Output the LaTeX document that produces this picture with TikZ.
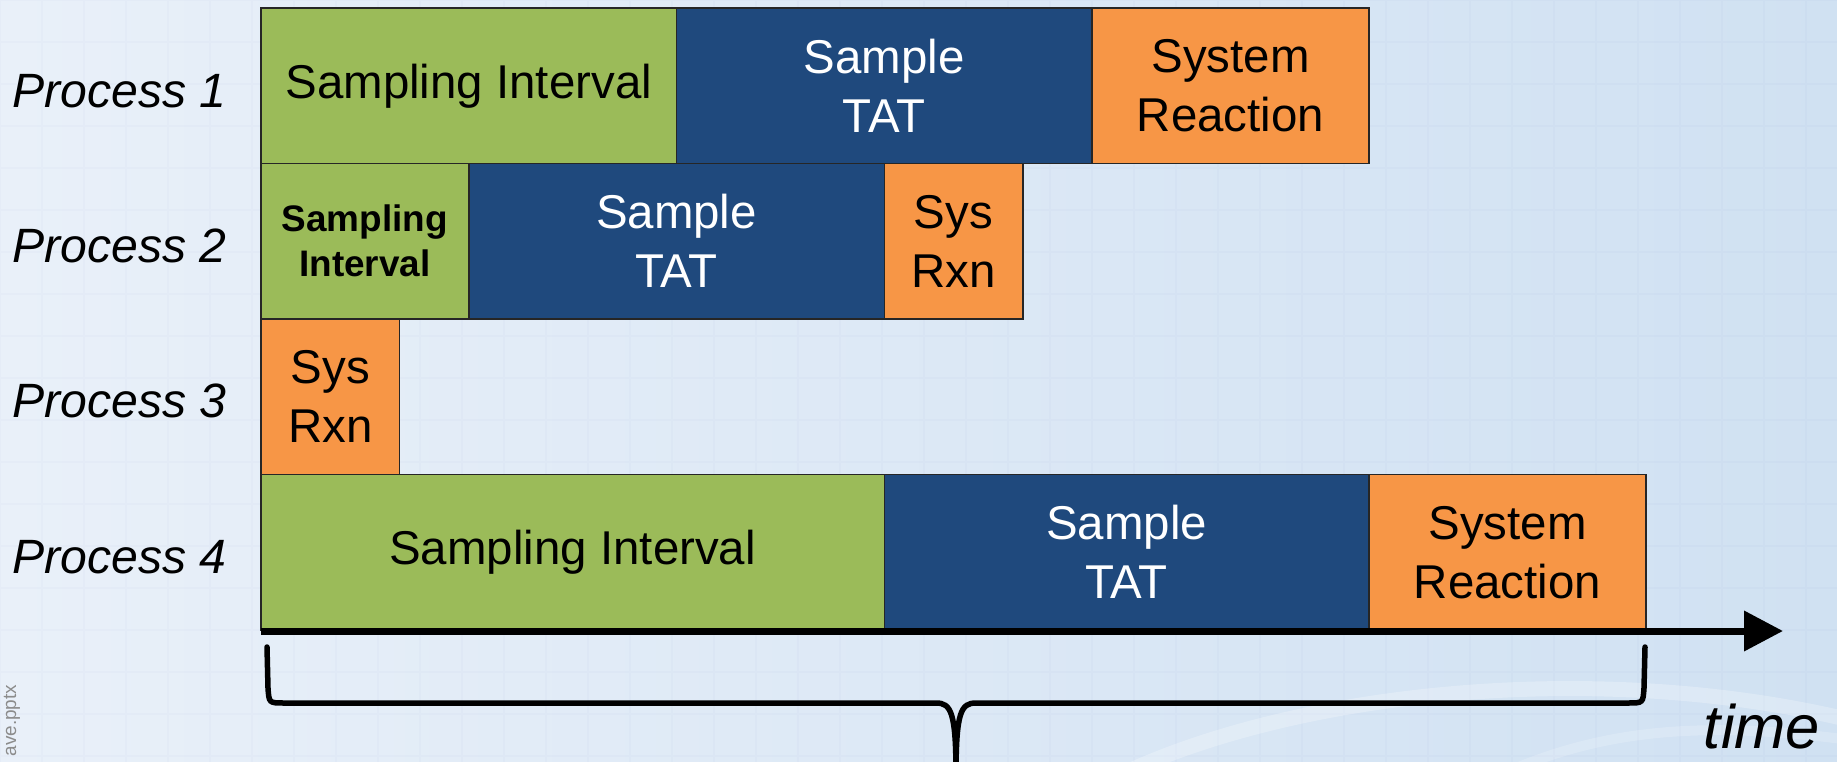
\documentclass[tikz,border=0pt]{standalone}
\usepackage{fontspec}
\setmainfont{Liberation Sans}
\usetikzlibrary{positioning,arrows.meta}
\definecolor{sigreen}{HTML}{9BBB59}
\definecolor{tatblue}{HTML}{1F497D}
\definecolor{rxnorange}{HTML}{F79646}
\definecolor{bgleft}{HTML}{E9F0F9}
\definecolor{bgright}{HTML}{D0E1F2}
\newcommand{\tu}{13.85mm}% one time unit
\tikzset{
  seg/.style={rectangle,draw=black!85,line width=.15mm,outer sep=0pt,inner sep=0pt,
    minimum height=15.55mm,align=center,font=\fontsize{13.5}{16.8}\selectfont},
  sgi/.style={seg,fill=sigreen},
  tat/.style={seg,fill=tatblue,text=white},
  rxn/.style={seg,fill=rxnorange},
  proc/.style={anchor=west,inner sep=0pt,font=\fontsize{13.7}{15}\selectfont\itshape}
}
\begin{document}
\begin{tikzpicture}[x=.1mm,y=-.1mm]
\useasboundingbox(0,0)rectangle(1837,762);
\clip(0,0)rectangle(1837,762);
%background
\shade[left color=bgleft,right color=bgright](0,0)rectangle(1837,762);
\draw[step=4.2mm,blue!40!gray,opacity=.025](0,0)grid(1837,762);
\draw[white,opacity=.25,line width=1.5mm](1120,775)..controls(1300,690)and(1600,660)..(1850,720);
\draw[white,opacity=.18,line width=1mm](1500,775)..controls(1600,730)and(1700,720)..(1850,740);
%process 1
\node[sgi,minimum width=3*\tu,anchor=north west](p1si)at(261,8){Sampling Interval};
\node[tat,minimum width=3*\tu,right=0pt of p1si](p1tat){Sample\\TAT};
\node[rxn,minimum width=2*\tu,right=0pt of p1tat](p1rxn){System\\Reaction};
%process 2
\node[sgi,minimum width=1.5*\tu,below=0pt of p1si.south west,anchor=north west,
  font=\fontsize{10.5}{12.8}\selectfont\bfseries](p2si){Sampling\\Interval};
\node[tat,minimum width=3*\tu,right=0pt of p2si](p2tat){Sample\\TAT};
\node[rxn,minimum width=1*\tu,right=0pt of p2tat](p2rxn){Sys\\Rxn};
%process 3
\node[rxn,minimum width=1*\tu,below=0pt of p2si.south west,anchor=north west](p3rxn){Sys\\Rxn};
%process 4
\node[sgi,minimum width=4.5*\tu,below=0pt of p3rxn.south west,anchor=north west](p4si){Sampling Interval};
\node[tat,minimum width=3.5*\tu,right=0pt of p4si](p4tat){Sample\\TAT};
\node[rxn,minimum width=2*\tu,right=0pt of p4tat](p4rxn){System\\Reaction};
%labels
\foreach \n/\y in {1/91,2/246,3/401,4/557}
  \node[proc](proc\n)at(12,\y){Process \n};
%time axis
\coordinate(t0)at(261,631);
\coordinate(t1)at(1783,631);
\draw[line width=.7mm,-{Triangle[length=3.9mm,width=3.9mm]}](t0)--(t1);
\node[font=\fontsize{17.5}{20}\selectfont\itshape,anchor=base,inner sep=0pt](tlabel)at(1762,748){time};
%brace
\draw[line width=.55mm,line cap=round](267,647)--(268,688)..controls(269,703)..(284,703)
--(936,703)..controls(951,703)and(956,712)..(956,775);
\draw[line width=.55mm,line cap=round](1645,647)--(1644,688)..controls(1643,703)..(1628,703)
--(976,703)..controls(961,703)and(956,712)..(956,775);
%file name
\node[rotate=90,anchor=base east,inner sep=0pt,text=black!45,font=\fontsize{5.4}{6}\selectfont](fname)at(16,684){ave.pptx};
\end{tikzpicture}
\end{document}
